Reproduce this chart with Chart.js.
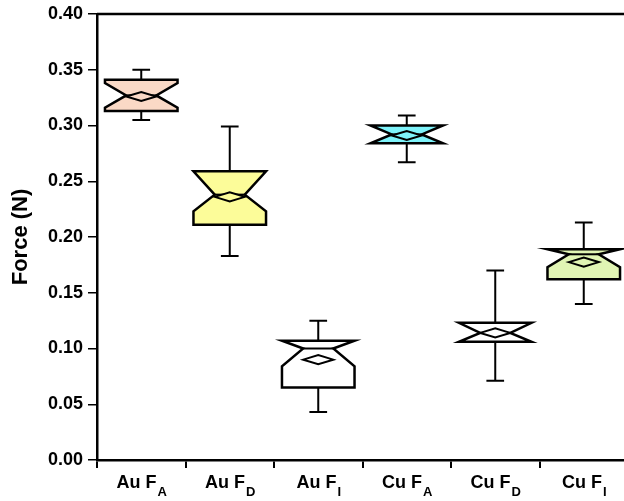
<!DOCTYPE html>
<html>
<head>
<meta charset="utf-8">
<script src="https://cdn.jsdelivr.net/npm/chart.js@4/dist/chart.umd.min.js"></script>
<style>
  html, body { margin: 0; padding: 0; background: #fff; overflow: hidden; }
  #wrap { width: 640px; height: 501px; }
</style>
</head>
<body>
<div id="wrap"><canvas id="forceChart" width="640" height="501"></canvas></div>
<script>
// category labels: main text + subscript
const categoryMain = ["Au F", "Au F", "Au F", "Cu F", "Cu F", "Cu F"];
const categorySub = ["A", "D", "I", "A", "D", "I"];

// box plot values (N)
const whiskerLow  = [0.305, 0.183, 0.043, 0.267, 0.071, 0.140];
const q1          = [0.313, 0.211, 0.065, 0.284, 0.106, 0.162];
const notchLow    = [0.316, 0.223, 0.084, 0.284, 0.106, 0.173];
const median      = [0.327, 0.238, 0.100, 0.292, 0.114, 0.1845];
const notchHigh   = [0.338, 0.259, 0.107, 0.300, 0.123, 0.189];
const q3          = [0.341, 0.259, 0.107, 0.300, 0.123, 0.189];
const whiskerHigh = [0.350, 0.299, 0.125, 0.309, 0.170, 0.213];
const mean        = [0.326, 0.236, 0.090, 0.291, 0.114, 0.1775];

const yTicks = [0, 0.05, 0.10, 0.15, 0.20, 0.25, 0.30, 0.35, 0.40];

const boxFills = ["#fad9c6", "#fcfc99", "#ffffff", "#7ef3fa", "#ffffff", "#e1f5b4"];

const FONT = "'Liberation Sans', Arial, Helvetica, sans-serif";

const boxPlotPlugin = {
  id: "boxPlot",
  afterDatasetsDraw(chart) {
    const ctx = chart.ctx;
    const xs = chart.scales.x;
    const ys = chart.scales.y;
    const step = xs.getPixelForValue(1) - xs.getPixelForValue(0);
    const half = step * 0.41;
    const indent = step * 0.24;
    const cap = step * 0.1;

    ctx.save();
    ctx.strokeStyle = "#000";
    ctx.lineJoin = "miter";

    for (let i = 0; i < median.length; i++) {
      const cx = xs.getPixelForValue(i);
      const L = cx - half, R = cx + half;
      const yTop = ys.getPixelForValue(Math.max(q3[i], notchHigh[i]));
      const yBot = ys.getPixelForValue(Math.min(q1[i], notchLow[i]));
      const yNH = ys.getPixelForValue(notchHigh[i]);
      const yNL = ys.getPixelForValue(notchLow[i]);
      const yMed = ys.getPixelForValue(median[i]);
      const yWH = ys.getPixelForValue(whiskerHigh[i]);
      const yWL = ys.getPixelForValue(whiskerLow[i]);

      // whiskers
      ctx.lineWidth = 2;
      ctx.beginPath();
      ctx.moveTo(cx, yWH);
      ctx.lineTo(cx, yTop);
      ctx.moveTo(cx, yBot);
      ctx.lineTo(cx, yWL);
      ctx.moveTo(cx - cap, yWH);
      ctx.lineTo(cx + cap, yWH);
      ctx.moveTo(cx - cap, yWL);
      ctx.lineTo(cx + cap, yWL);
      ctx.stroke();

      // notched box
      ctx.lineWidth = 2.5;
      ctx.beginPath();
      ctx.moveTo(L, yTop);
      ctx.lineTo(R, yTop);
      ctx.lineTo(R, yNH);
      ctx.lineTo(R - indent, yMed);
      ctx.lineTo(R, yNL);
      ctx.lineTo(R, yBot);
      ctx.lineTo(L, yBot);
      ctx.lineTo(L, yNL);
      ctx.lineTo(L + indent, yMed);
      ctx.lineTo(L, yNH);
      ctx.closePath();
      ctx.fillStyle = boxFills[i];
      ctx.fill();
      ctx.stroke();

      // median line across the notch
      ctx.lineWidth = 2;
      ctx.beginPath();
      ctx.moveTo(L + indent, yMed);
      ctx.lineTo(R - indent, yMed);
      ctx.stroke();

      // mean diamond
      const yMean = ys.getPixelForValue(mean[i]);
      const dw = 15, dh = 4.5;
      ctx.beginPath();
      ctx.moveTo(cx - dw, yMean);
      ctx.lineTo(cx, yMean - dh);
      ctx.lineTo(cx + dw, yMean);
      ctx.lineTo(cx, yMean + dh);
      ctx.closePath();
      ctx.fillStyle = boxFills[i];
      ctx.fill();
      ctx.stroke();
    }
    ctx.restore();
  },
  afterDraw(chart) {
    const ctx = chart.ctx;
    const xs = chart.scales.x;
    const area = chart.chartArea;

    // frame top and right
    ctx.save();
    ctx.strokeStyle = "#000";
    ctx.lineWidth = 2.5;
    ctx.beginPath();
    ctx.moveTo(area.left, area.top);
    ctx.lineTo(area.right, area.top);
    ctx.lineTo(area.right, area.bottom);
    ctx.stroke();

    // x labels with subscripts
    ctx.fillStyle = "#000";
    ctx.textBaseline = "alphabetic";
    ctx.textAlign = "left";
    for (let i = 0; i < categoryMain.length; i++) {
      const cx = xs.getPixelForValue(i);
      ctx.font = "bold 18px " + FONT;
      const wMain = ctx.measureText(categoryMain[i]).width;
      ctx.font = "bold 13px " + FONT;
      const wSub = ctx.measureText(categorySub[i]).width;
      const x0 = cx - (wMain + wSub) / 2;
      ctx.font = "bold 18px " + FONT;
      ctx.fillText(categoryMain[i], x0, 488);
      ctx.font = "bold 13px " + FONT;
      ctx.fillText(categorySub[i], x0 + wMain + 1, 496);
    }
    ctx.restore();
  }
};

new Chart(document.getElementById("forceChart").getContext("2d"), {
  type: "line",
  data: {
    labels: categoryMain.map((m, i) => m + categorySub[i]),
    datasets: [{
      label: "Median",
      data: median,
      showLine: false,
      pointRadius: 0,
      borderColor: "rgba(0,0,0,0)"
    }]
  },
  options: {
    responsive: false,
    devicePixelRatio: 1,
    animation: false,
    layout: { padding: { top: 13, right: 12, left: 0, bottom: 0 } },
    plugins: { legend: { display: false }, tooltip: { enabled: false } },
    scales: {
      x: {
        type: "category",
        offset: true,
        grid: { offset: true, drawOnChartArea: false, drawTicks: true, tickLength: 8, color: "#000", lineWidth: 2 },
        border: { display: true, color: "#000", width: 2.5 },
        ticks: { display: false },
        afterFit(scale) { scale.height = 41; }
      },
      y: {
        min: 0,
        max: 0.4,
        afterBuildTicks(scale) { scale.ticks = yTicks.map(v => ({ value: v })); },
        grid: { drawOnChartArea: false, drawTicks: true, tickLength: 9, color: "#000", lineWidth: 1.5 },
        border: { display: true, color: "#000", width: 2.5 },
        ticks: {
          padding: 5,
          color: "#000",
          font: { family: FONT, size: 18, weight: "bold", lineHeight: 1 },
          callback: v => Number(v).toFixed(2)
        },
        title: {
          display: true,
          text: "Force (N)",
          color: "#000",
          font: { family: FONT, size: 22, weight: "bold" },
          padding: { top: 8, bottom: 0 }
        },
        afterFit(scale) { scale.width = 97; }
      }
    }
  },
  plugins: [boxPlotPlugin]
});
</script>
</body>
</html>
